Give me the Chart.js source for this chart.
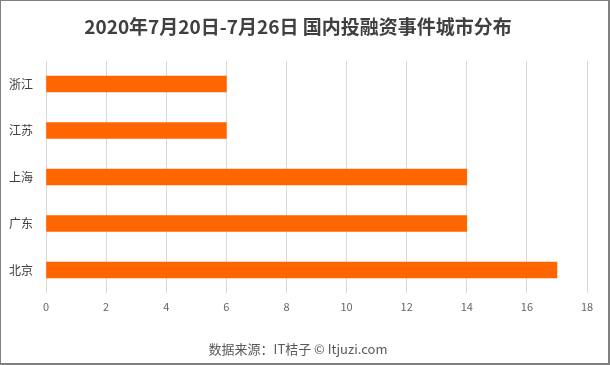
<!DOCTYPE html>
<html>
<head>
<meta charset="utf-8">
<script src="https://cdn.jsdelivr.net/npm/chart.js@4/dist/chart.umd.min.js"></script>
<style>
  html, body { margin: 0; padding: 0; background: #fff; }
  #wrap {
    width: 610px; height: 365px; box-sizing: border-box;
    border: 1px solid #808080; border-right-width: 2px; border-bottom-width: 2px;
    position: relative;
  }
</style>
</head>
<body>
<div id="wrap"><canvas id="chart"></canvas></div>
<script>
// 城市分布数据（自上而下）
const cities = ["浙江", "江苏", "上海", "广东", "北京"];
const counts = [6, 6, 14, 14, 17];

const FONT = "'Noto Sans CJK SC', 'Noto Sans', sans-serif";
const BAR_COLOR = "#FF6600";

new Chart(document.getElementById("chart"), {
  type: "bar",
  data: {
    labels: cities,
    datasets: [{
      data: counts,
      backgroundColor: BAR_COLOR,
      borderWidth: 0,
      barThickness: 16
    }]
  },
  options: {
    indexAxis: "y",
    responsive: true,
    maintainAspectRatio: false,
    animation: false,
    layout: { padding: { top: 4, left: 8, right: 21, bottom: 6 } },
    plugins: {
      legend: { display: false },
      tooltip: { enabled: false },
      title: {
        display: true,
        text: "2020年7月20日-7月26日 国内投融资事件城市分布",
        color: "#404040",
        font: { family: FONT, size: 19, weight: "bold" },
        padding: { top: 10, bottom: 23 }
      },
      subtitle: {
        display: true,
        position: "bottom",
        text: "数据来源：IT桔子 © Itjuzi.com",
        color: "#595959",
        font: { family: FONT, size: 13 },
        padding: { top: 21, bottom: 0 }
      }
    },
    scales: {
      x: {
        min: 0,
        max: 18,
        ticks: { stepSize: 2, color: "#666", font: { family: FONT, size: 11 }, padding: 7 },
        grid: { color: "#d9d9d9", drawTicks: false },
        border: { display: false }
      },
      y: {
        afterFit: (s) => { s.width = 37; },
        ticks: { color: "#404040", font: { family: FONT, size: 12 }, padding: 13 },
        grid: { display: false, drawTicks: false },
        border: { display: false }
      }
    }
  }
});
</script>
</body>
</html>
